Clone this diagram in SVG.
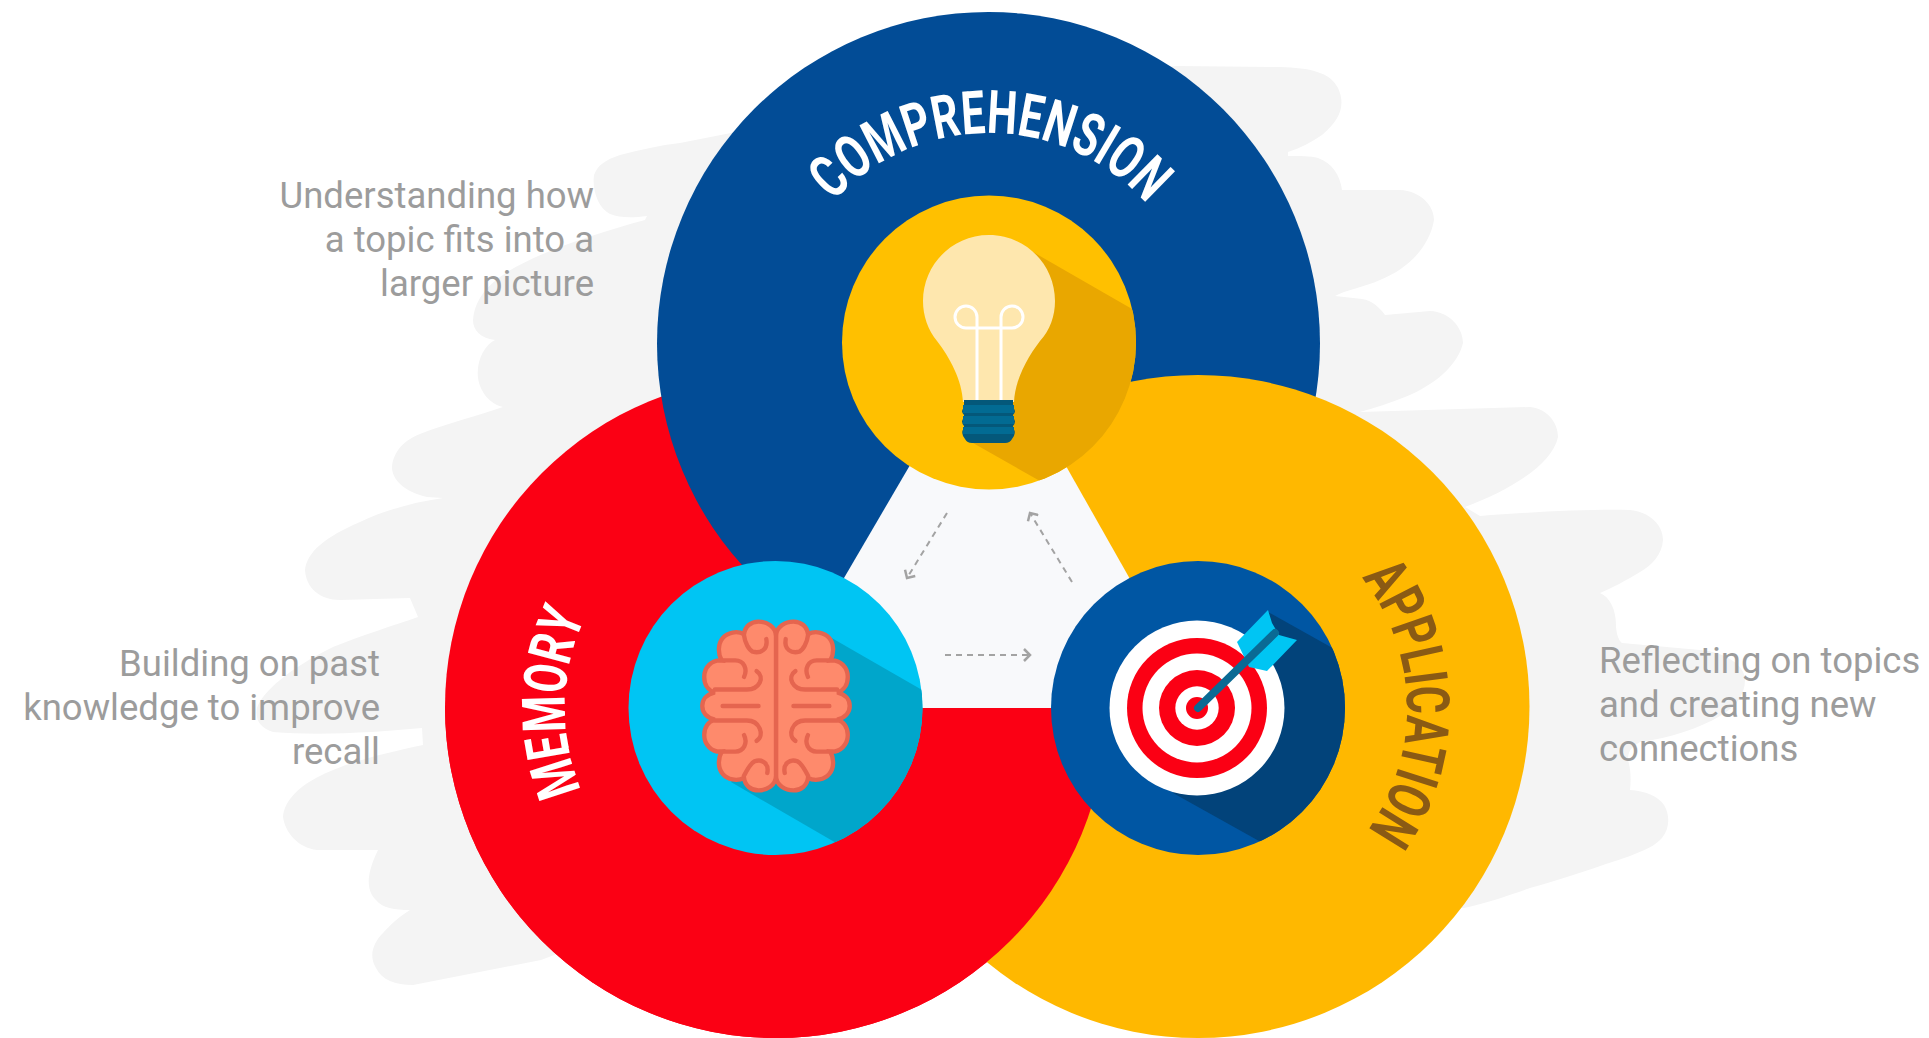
<svg xmlns="http://www.w3.org/2000/svg" xmlns:xlink="http://www.w3.org/1999/xlink" width="1929" height="1038" viewBox="0 0 1929 1038">
<style>
.desc{font-family:Roboto,"Liberation Sans",sans-serif;font-size:36.500px;fill:#9c9c9c;font-weight:400}
.end{text-anchor:end}
.title{font-family:"Roboto","Liberation Sans",sans-serif;font-size:60px;font-weight:700}
.dash{fill:none;stroke:#a3a3a3;stroke-width:2;stroke-dasharray:6 5;marker-end:url(#chev)}
.fold{fill:none;stroke:#e5654f;stroke-width:4.5;stroke-linecap:round}
.fil{fill:none;stroke:#fff;stroke-width:3}
</style>
<defs>
<marker id="chev" viewBox="0 0 10 14" refX="8" refY="7" markerWidth="10" markerHeight="14" markerUnits="userSpaceOnUse" orient="auto"><path d="M2,1 L8,7 L2,13" fill="none" stroke="#a3a3a3" stroke-width="2.5"/></marker>
<clipPath id="cb"><circle cx="989" cy="342.500" r="147"/></clipPath>
<clipPath id="cm"><circle cx="775.500" cy="708" r="147"/></clipPath>
<clipPath id="ct"><circle cx="1198" cy="708" r="147"/></clipPath>
<clipPath id="below"><rect x="400" y="708" width="900" height="330"/></clipPath>
<path id="arcC" d="M833.400,201.500 A211,211 0 0 1 1148.200,205.600"/>
<path id="arcM" d="M581.600,790 A211,211 0 0 1 583,622"/>
<path id="arcA" d="M1361.600,577.900 A209,209 0 0 1 1360.400,839.500"/>
<g id="half">
<path d="M0,-72 C0,-82 10,-87 18,-87 C26,-87 32,-82 33,-74 C40,-78 50,-76 55,-70 C60,-64 60,-54 56,-47 C66,-48 74,-40 74,-30 C74,-22 70,-16 63,-14 C72,-12 76,-6 76,0 C76,6 72,12 63,14 C70,16 74,22 74,30 C74,40 66,48 56,47 C60,54 60,64 55,70 C50,76 40,78 33,74 C32,82 26,87 18,87 C10,87 0,82 0,72 Z" fill="#fe8a6c" stroke="#e5654f" stroke-width="4.500"/>
<path class="fold" d="M10,-69 C8,-58 16,-54 24,-56 C28,-58 32,-65 33,-73"/>
<path class="fold" d="M58,-47 L42,-47 C33,-47 29,-38 33,-30"/>
<path class="fold" d="M63,-17 L30,-17 C17,-17 11,-30 20,-36"/>
<path class="fold" d="M18,0 L55,0"/>
<path class="fold" d="M63,15 L30,15 C17,15 11,30 20,36"/>
<path class="fold" d="M58,47 L42,47 C33,47 29,38 33,30"/>
<path class="fold" d="M9,69 C7,60 14,54 22,57 C26,59 30,66 33,72"/>
</g>
</defs>
<rect width="1929" height="1038" fill="#fff"/>
<path id="backdrop" fill="#f4f4f4" d="M1177,66 L1280,67 C1310,68 1330,72 1338,88 C1346,105 1340,120 1322,135 C1312,142 1300,148 1288,152 L1288,156 C1300,156 1310,156 1318,158 C1332,163 1340,175 1342,190 L1400,190 C1420,191 1434,205 1434,220 C1430,245 1410,268 1380,280 C1365,287 1345,290 1335,296 L1362,299 C1372,300 1380,308 1385,315 L1430,311 C1450,312 1463,328 1463,343 C1458,365 1435,385 1405,397 C1390,403 1375,408 1360,412 L1530,407 C1548,409 1558,423 1558,437 C1552,465 1510,490 1465,507 L1480,516 C1530,512 1590,509 1630,510 C1650,512 1663,525 1663,540 C1662,555 1652,565 1640,572 C1627,580 1612,588 1600,593 C1610,597 1616,610 1616,625 C1616,632 1618,640 1622,643 L1700,650 C1725,652 1745,665 1745,680 C1745,695 1735,708 1720,716 C1700,728 1670,738 1640,742 C1630,748 1628,752 1628,760 C1631,770 1631,780 1630,790 C1645,791 1658,796 1664,805 C1670,815 1670,828 1662,838 C1655,846 1645,850 1630,856 C1600,866 1560,880 1530,888 C1510,895 1490,902 1464,908 L1200,900 L700,900 L541,960 L413,985 C395,985 382,980 376,968 C368,955 374,942 383,933 C390,925 400,916 410,910 C395,910 382,908 376,900 C366,890 366,875 378,850 L317,850 C298,848 285,832 283,817 C284,802 297,788 316,778 C345,762 390,752 423,745 L422,728 C380,732 320,736 273,732 C260,728 255,720 257,708 C262,692 290,668 333,647 C360,636 395,625 418,617 L410,598 L340,600 C320,600 306,588 305,570 C307,552 325,537 360,522 C385,510 415,502 443,498 L427,497 C405,492 392,480 392,467 C393,455 400,442 420,434 C445,424 480,415 503,407 C490,404 480,392 478,378 C476,360 485,345 495,340 C480,338 473,330 473,320 C474,305 482,290 500,277 C530,255 590,235 645,220 L647,216 C632,218 620,218 610,214 C598,208 592,190 594,175 C598,165 605,160 620,155 C640,150 660,145 680,143 L1000,80 Z"/>
<g id="discs">
<circle cx="776" cy="707" r="331" fill="#fb0014"/>
<circle cx="988.500" cy="343.500" r="331.500" fill="#024c96"/>
<circle cx="1198" cy="706.500" r="331.500" fill="#ffb800"/>
<circle cx="776" cy="707" r="331" fill="#fb0014" clip-path="url(#below)"/>
</g>
<polygon id="triangle" points="989,330 768,708 1203,708" fill="#f8f9fb"/>
<g id="connectors">
<path class="dash" d="M947,513 L907,578"/>
<path class="dash" d="M1072,582 L1030,513"/>
<path class="dash" d="M945,655 L1030,655"/>
</g>
<g id="node-comprehension">
<circle cx="989" cy="342.500" r="147" fill="#ffc000"/>
<polygon points="1033,252 1200,348 1100,515 973,443" fill="#e9a700" clip-path="url(#cb)"/>
<path d="M963,402 C962,380 950,358 937,341 C928,330 923,316 923,301 C923,265 952,235 989,235 C1026,235 1055,265 1055,301 C1055,316 1050,330 1040,341 C1027,358 1015,380 1014,402 Z" fill="#fee7ae"/>
<path class="fil" d="M977,401 L977,317 A11,11 0 1 0 966,328 L1012,328 A11,11 0 1 0 1001,317 L1001,401"/>
<path d="M964,400 L1013,400 L1013,408 Q1017,411 1013,415 L1013,418 Q1017,421 1013,426 L1013,428 Q1017,433 1012,439 Q1010,443 1005,443 L972,443 Q967,443 965,439 Q960,433 964,428 L964,426 Q960,421 964,418 L964,415 Q960,411 964,408 Z" fill="#04587a"/>
<rect x="963" y="405" width="51" height="8" fill="#026b93"/>
<rect x="963" y="416" width="51" height="8" fill="#026b93"/>
<rect x="963" y="427" width="51" height="7" fill="#026b93"/>
<text class="title" fill="#fff"><textPath href="#arcC" xlink:href="#arcC" textLength="353" lengthAdjust="spacingAndGlyphs">COMPREHENSION</textPath></text>
<text class="desc end" x="594" y="208">Understanding how</text>
<text class="desc end" x="594" y="252">a topic fits into a</text>
<text class="desc end" x="594" y="296">larger picture</text>
</g>
<g id="node-memory">
<circle cx="775.500" cy="708" r="147" fill="#00c5f3"/>
<polygon points="830,637 1000,735 900,880 731,782" fill="#00a6cb" clip-path="url(#cm)"/>
<use href="#half" xlink:href="#half" transform="translate(776,706) scale(.97)"/>
<use href="#half" xlink:href="#half" transform="translate(776,706) scale(-.97,.97)"/>
<text class="title" fill="#fff"><textPath href="#arcM" xlink:href="#arcM" textLength="178" lengthAdjust="spacingAndGlyphs">MEMORY</textPath></text>
<text class="desc end" x="380" y="676">Building on past</text>
<text class="desc end" x="380" y="720">knowledge to improve</text>
<text class="desc end" x="380" y="764">recall</text>
</g>
<g id="node-application">
<circle cx="1198" cy="708" r="147" fill="#0056a3"/>
<polygon points="1268,612 1420,697 1325,878 1173,793" fill="#02437a" clip-path="url(#ct)"/>
<circle cx="1197" cy="708" r="87.500" fill="#fff"/>
<circle cx="1197" cy="708" r="70" fill="#fb0014"/>
<circle cx="1197" cy="708" r="54.500" fill="#fff"/>
<circle cx="1197" cy="708" r="38" fill="#fb0014"/>
<circle cx="1197" cy="708" r="21.700" fill="#fff"/>
<circle cx="1197" cy="708" r="11" fill="#fb0014"/>
<polygon points="1268,610 1237,642 1249,667 1267,671 1297,640 1279,635 1272,623" fill="#00c5f3"/>
<path d="M1198,708 L1275,633" stroke="#0a6a94" stroke-width="8" stroke-linecap="round" fill="none"/>
<text class="title" fill="#8a5a14"><textPath href="#arcA" xlink:href="#arcA" textLength="271" lengthAdjust="spacingAndGlyphs">APPLICATION</textPath></text>
<text class="desc" x="1599" y="673">Reflecting on topics</text>
<text class="desc" x="1599" y="717">and creating new</text>
<text class="desc" x="1599" y="761">connections</text>
</g>
</svg>
